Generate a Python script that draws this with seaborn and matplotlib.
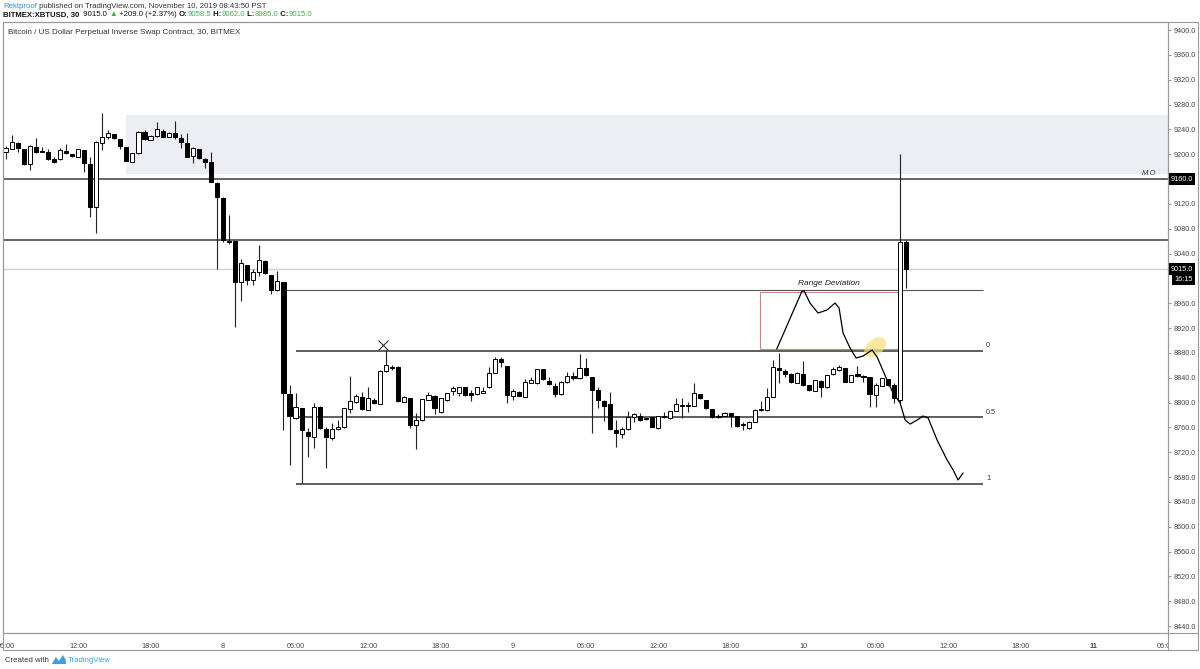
import numpy as np
import pandas as pd
import matplotlib
matplotlib.use("Agg")
import matplotlib.pyplot as plt
import matplotlib.transforms as mtrans
from matplotlib.patches import Rectangle, Ellipse, Polygon
from matplotlib.lines import Line2D
import seaborn as sns

# XBTUSD 30 min candles, time in hours from Nov 7 00:00, first bar at 06:00
first_hour = 6.0
opens = [9203, 9208.4, 9218.6, 9207.9, 9184.2, 9212.2, 9205.2, 9204.1, 9192.3, 9191.8,
         9205.2, 9200.9, 9196.0, 9206.8, 9183.7, 9114.5, 9218.6, 9227.2, 9232, 9224,
         9211.1, 9188, 9201.4, 9235.2, 9222.9, 9229.3, 9237.9, 9228.3, 9233.6, 9225.6,
         9218.6, 9197.1, 9207.9, 9192.3, 9186.9, 9154.2, 9130, 9061, 9060.7, 8994.7,
         9021.5, 8997.4, 9010.8, 9028.5, 9005.4, 8981.3, 8994.7, 8813.3, 8774.6, 8790.7,
         8752.1, 8745.1, 8793.4, 8756.9, 8742.4, 8756.9, 8760.1, 8789.6, 8801.4, 8809.5,
         8788, 8804.1, 8797.7, 8851.4, 8855.5, 8857.8, 8801.4, 8807.9, 8763.9, 8771.9,
         8804.1, 8811.1, 8785.3, 8804.1, 8818.7, 8815, 8824.6, 8814.9, 8813.8, 8816,
         8824.6, 8847.1, 8869.7, 8859, 8810.6, 8817.6, 8809.5, 8832, 8831, 8853.6,
         8835.3, 8826.7, 8813.8, 8832.6, 8842.8, 8839.1, 8856.3, 8841.7, 8820.3, 8803,
         8797.7, 8755.8, 8749.4, 8756.9, 8776.3, 8778.4, 8774, 8776.3, 8758.5, 8777.3,
         8774.6, 8786.5, 8796.1, 8795, 8794.5, 8813.3, 8804.2, 8789.1, 8777.3, 8778.4,
         8782.7, 8778.4, 8765.5, 8758.5, 8769.2, 8788, 8788, 8809.5, 8855, 8851.4,
         8846, 8832, 8846, 8828.3, 8819.2, 8835.3, 8824.6, 8846, 8852.5, 8855,
         8833.7, 8846, 8841.7, 8840.6, 8812.2, 8826.7, 8837.5, 8828.3, 8805, 9058.5]
highs = [9213.8, 9230.9, 9219.7, 9209, 9214.8, 9225.6, 9212.2, 9207.9, 9195, 9209.5,
         9215.9, 9201, 9208, 9207, 9195, 9221, 9265.8, 9239, 9233, 9224.5,
         9211.5, 9202.5, 9237.9, 9239, 9230.5, 9252.4, 9240.1, 9235, 9254, 9232.5,
         9233.6, 9212.2, 9208, 9193.4, 9204.1, 9154.5, 9131, 9102, 9060.7, 9030.7,
         9021.5, 9014.6, 9053.7, 9029, 9006, 9012.4, 8995, 8828.3, 8814.9, 8791,
         8758.5, 8799.8, 8794, 8761.2, 8766.6, 8771.9, 8791, 8842.8, 8813.8, 8817.6,
         8824.5, 8806.8, 8852.4, 8884.7, 8860, 8859, 8810, 8808, 8783.7, 8806,
         8817.6, 8812.2, 8808, 8816, 8826.7, 8825, 8825, 8820.3, 8825, 8825,
         8857.9, 8872.9, 8874, 8859.5, 8821.3, 8818, 8837.5, 8841.7, 8854, 8854,
         8841.7, 8831, 8835, 8849.8, 8849.8, 8878.3, 8871.3, 8842, 8824.6, 8805,
         8817.6, 8772, 8761.2, 8786.5, 8782.7, 8782.7, 8776, 8777, 8779, 8785.4,
         8787, 8806.9, 8806.9, 8801.5, 8832.1, 8814, 8805, 8790, 8781, 8785,
         8784, 8779, 8769, 8770, 8789, 8803, 8823, 8868.5, 8880, 8854.6,
         8847, 8849, 8867.5, 8829, 8837, 8836, 8845, 8857.8, 8860.5, 8856,
         8845, 8859, 8844.4, 8841, 8831, 8840, 8838, 8831, 9200, 9062]
lows = [9191.8, 9207.9, 9204.1, 9182, 9174.6, 9202.5, 9203, 9190.7, 9185.3, 9190.7,
        9199.8, 9196, 9196, 9171.9, 9099.4, 9073.7, 9206.8, 9224, 9225, 9207.9,
        9188.5, 9187.5, 9201, 9222.9, 9222.5, 9228.3, 9228, 9227.2, 9224, 9209.5,
        9195.5, 9186.4, 9191.8, 9177.3, 9155, 9015, 9058, 9055, 8922.2, 8964.1,
        8989.3, 8989.3, 9003.8, 9007, 8974.8, 8980.2, 8755.8, 8699.5, 8773.0, 8669.9,
        8711.8, 8726.3, 8756.9, 8694.1, 8739.7, 8755.8, 8758.5, 8783.7, 8799.8, 8788,
        8787.5, 8797.7, 8797, 8849.7, 8852, 8801.4, 8801, 8758.5, 8725.2, 8770.8,
        8804, 8781.6, 8784, 8803, 8812.2, 8810, 8811, 8803.1, 8813, 8815,
        8824, 8847, 8857.9, 8798.8, 8804.2, 8810, 8809, 8831, 8830, 8836,
        8828.3, 8809.5, 8813, 8832, 8836.4, 8838, 8843, 8750.5, 8790.8, 8770.9,
        8756, 8728, 8742.4, 8756, 8769, 8771, 8772, 8760, 8758, 8776,
        8774, 8786, 8774.6, 8785.4, 8794, 8806, 8790, 8776, 8776, 8778,
        8761, 8761, 8756, 8757, 8768, 8787, 8787, 8809, 8831, 8841.7,
        8832, 8831, 8827, 8819, 8818, 8809.5, 8824, 8845, 8851, 8833,
        8833, 8840.6, 8833.7, 8793.4, 8793.4, 8826, 8827, 8798.8, 8800, 8985]
closes = [9209.5, 9220.2, 9210.5, 9184.2, 9213.2, 9204.1, 9203.5, 9191.8, 9188.0, 9206.8,
          9201.4, 9197.1, 9207.9, 9185.3, 9115.5, 9220.2, 9227.2, 9233.6, 9225.6, 9213.2,
          9189.1, 9201.4, 9236.3, 9224, 9229.9, 9240.1, 9228.3, 9234.7, 9227.2, 9220.2,
          9196.0, 9209.5, 9193.4, 9188.0, 9155.8, 9130.6, 9062, 9059, 8994.7, 9024.2,
          8997.4, 9010.8, 9029.6, 9008.1, 8981.3, 8996.3, 8814.9, 8778.4, 8793.4, 8755.8,
          8746.7, 8793.4, 8758.5, 8745.1, 8756.9, 8760.1, 8790.7, 8803.1, 8810.6, 8789.1,
          8806.8, 8798.8, 8851.4, 8860.5, 8857.8, 8803.1, 8809.5, 8763.9, 8771.9, 8805.2,
          8812.2, 8790.7, 8806.8, 8814.9, 8823, 8824.6, 8812.2, 8812.2, 8824.6, 8819,
          8847.1, 8869.7, 8865.9, 8812.2, 8818.7, 8810.6, 8833.7, 8836, 8853.6, 8837.5,
          8829.4, 8813.8, 8833.7, 8843.4, 8839.1, 8856.3, 8844.4, 8820.3, 8804.2, 8795,
          8756.9, 8751.6, 8756.9, 8776.3, 8781.1, 8772, 8774.6, 8761.2, 8778.4, 8779,
          8786.5, 8797.7, 8794.5, 8794, 8814.9, 8806.9, 8790.7, 8777.3, 8778, 8783.8,
          8778.4, 8762.3, 8764, 8769.2, 8788, 8788.5, 8809.5, 8857.8, 8852.5, 8846,
          8833.7, 8847, 8828.3, 8820.3, 8836.4, 8824.6, 8844.4, 8853.5, 8857.8, 8833.7,
          8844.4, 8842.8, 8841.2, 8813.8, 8828.3, 8839.1, 8828.3, 8806.9, 9058.5, 9015]

# horizontal levels
full_levels = [9160, 9062]
last_price = 9015.0
range_top = 8981
fib_prices = [8883.6, 8776.2, 8668.9]
fib_labels = ["0", "0.5", "1"]
range_start, fib_start, levels_end = 29.0, 30.0, 86.9
zone_t0, zone_lo, zone_hi = 16.0, 9168, 9263
dev_box = (68.4, 79.9, 8886.3, 8978.1)

# hand drawn projection
path_t = [69.82, 71.89, 72.08, 72.57, 73.24, 73.98, 74.65, 74.98, 75.31, 75.89,
          76.39, 76.97, 77.71, 78.13, 78.95, 79.45, 80.03, 80.45, 80.86, 81.44,
          81.93, 82.35, 83.09, 83.92, 84.42, 84.83, 85.24]
path_p = [8886.3, 8978.6, 8980.2, 8960.4, 8944.3, 8949.1, 8960.4, 8952.3, 8912.1, 8887.9,
          8871.8, 8875.0, 8884.7, 8873.4, 8836.4, 8815.5, 8799.4, 8772.0, 8765.5, 8772.0,
          8778.4, 8775.2, 8739.8, 8707.6, 8691.5, 8675.4, 8686.6]

price_ticks = [p for p in range(8440, 9401, 40) if p not in (9000, 9160)]
time_ticks = [6, 12, 18, 24, 30, 36, 42, 48, 54, 60, 66, 72, 78, 84, 90, 96, 102]
time_labels = ["06:00", "12:00", "18:00", "8", "06:00", "12:00", "18:00", "9", "06:00",
               "12:00", "18:00", "10", "06:00", "12:00", "18:00", "11", "06:00"]

candles = pd.DataFrame({"open": opens, "high": highs, "low": lows, "close": closes})
candles["t"] = first_hour + 0.5 * np.arange(len(candles))

sns.set_style("white")
plt.rcParams["font.family"] = ["Liberation Sans", "DejaVu Sans"]

W, H = 1200, 669
fig = plt.figure(figsize=(12, 6.69), dpi=100)


def px(x0, y0, x1, y1):
    return [x0 / W, 1 - y1 / H, (x1 - x0) / W, (y1 - y0) / H]


ax = fig.add_axes(px(3, 22, 1168, 633))
ax.set_xlim(5.79, 102.2)
ax.set_ylim(8429.0, 9412.9)

# grey supply zone
ax.add_patch(Rectangle((zone_t0, zone_lo), 110, zone_hi - zone_lo, fc="#eceef3", ec="none", zorder=0))

# levels
for lv in full_levels:
    ax.axhline(lv, color="#3a3a3a", lw=1.1, zorder=1)
ax.axhline(last_price, color="#cfcfcf", lw=1.0, zorder=1)
ax.hlines(range_top, range_start, levels_end, color="#555", lw=0.8, zorder=1)
ax.hlines(fib_prices, fib_start, levels_end, color="#333", lw=1.1, zorder=1)
for p, lab in zip(fib_prices, fib_labels):
    ax.text(levels_end + 0.25, p + 3, lab, fontsize=5.2, color="#333", va="bottom", ha="left")

# candles
up = candles.close >= candles.open
body_lo = np.minimum(candles.open, candles.close)
body_h = np.maximum((candles.close - candles.open).abs(), 1.5)
ax.vlines(candles.t, candles.low, candles.high, color="#222", lw=0.8, zorder=3)
ax.bar(candles.t, body_h, bottom=body_lo, width=0.34,
       color=np.where(up, "white", "black"), edgecolor="black", linewidth=0.7, zorder=4)

# annotations
x0, x1, y0, y1 = dev_box
ax.add_patch(Rectangle((x0, y0), x1 - x0, y1 - y0, fill=False, ec="#c98888", lw=0.8, zorder=2))
ax.text((x0 + x1) / 2, 8986, "Range Deviation", fontsize=6, style="italic", color="#222",
        ha="center", va="bottom")
sns.lineplot(x=path_t, y=path_p, sort=False, color="black", lw=0.9, ax=ax, zorder=6)
ax.plot([37.2], [8892.7], marker="x", ms=7, mew=0.8, color="#333", zorder=6)
ell_tr = fig.dpi_scale_trans + mtrans.ScaledTranslation(77.96, 8889, ax.transData)
ax.add_patch(Ellipse((0, 0), 0.25, 0.16, angle=40, transform=ell_tr,
                     fc="#f6e27a", ec="none", alpha=0.7, zorder=5))
ax.text(101.2, 9160 + 4, "M.O", fontsize=5.5, style="italic", color="#333", ha="right", va="bottom")
ax.text(0.0043, 0.982, "Bitcoin / US Dollar Perpetual Inverse Swap Contract, 30, BITMEX",
        transform=ax.transAxes, fontsize=5.8, color="#333", ha="left", va="center")

# axes styling
ax.yaxis.tick_right()
ax.set_yticks(price_ticks)
ax.set_yticklabels([f"{p:.1f}" for p in price_ticks])
ax.set_xticks(time_ticks)
ax.set_xticklabels(time_labels)
ax.tick_params(axis="y", direction="out", length=2.5, width=0.6, color="#888",
               labelsize=5.2, labelcolor="#444", pad=1.5)
ax.tick_params(axis="x", direction="out", length=3, width=0.6, color="#888",
               labelsize=5.2, labelcolor="#444", pad=4)
for lab in ax.get_xticklabels():
    if lab.get_text() == "11":
        lab.set_fontweight("bold")
clip = mtrans.TransformedBbox(mtrans.Bbox([[-0.01, -0.2], [1.0, 1.0]]), ax.transAxes)
ax.get_xticklabels()[-1].set_clip_box(clip)
ax.get_xticklabels()[-1].set_clip_on(True)
for s in ax.spines.values():
    s.set_color("#9a9a9a")
    s.set_linewidth(0.8)

ylab = ax.get_yaxis_transform()
box = dict(boxstyle="square,pad=0.3", fc="black", ec="none")
ax.text(1.0025, 9160, "9160.0", transform=ylab, fontsize=5.2, color="white", va="center", ha="left", bbox=box)
ax.text(1.0025, last_price, "9015.0", transform=ylab, fontsize=5.2, color="white", va="center", ha="left", bbox=box)
ax.text(1.0055, 8999, "16:15", transform=ylab, fontsize=5.2, color="white", va="center", ha="left", bbox=box)

# outer frame
fig.patches.append(Rectangle((3 / W, 1 - 650 / H), 1195 / W, 628 / H, transform=fig.transFigure,
                             fill=False, ec="#9a9a9a", lw=0.8))
fig.lines.append(Line2D([1168 / W, 1168 / W], [1 - 650 / H, 1 - 22 / H], transform=fig.transFigure,
                        color="#9a9a9a", lw=0.8))
fig.lines.append(Line2D([3 / W, 1198 / W], [1 - 633 / H, 1 - 633 / H], transform=fig.transFigure,
                        color="#9a9a9a", lw=0.8))

# header text pieces
rend = fig.canvas.get_renderer()
ident = mtrans.IdentityTransform()


def write_run(x, y, parts, size):
    for s, color, weight in parts:
        t = fig.text(x, H - y, s, transform=ident, fontsize=size, color=color,
                     fontweight=weight, va="center", ha="left")
        x += t.get_window_extent(rend).width
    return x


green = "#45a84e"
write_run(3, 6, [("Rektproof", "#2f8fd8", "normal"),
                 (" published on TradingView.com, November 10, 2019 08:43:50 PST", "#333", "normal")], 5.6)
write_run(3, 15, [("BITMEX:XBTUSD, 30", "#111", "bold"), ("  9015.0 ", "#111", "normal"),
                  ("▲", green, "normal"), (" +209.0 (+2.37%) ", "#111", "normal"),
                  ("O:", "#111", "bold"), ("9058.5", green, "normal"),
                  (" H:", "#111", "bold"), ("9062.0", green, "normal"),
                  (" L:", "#111", "bold"), ("8985.0", green, "normal"),
                  (" C:", "#111", "bold"), ("9015.0", green, "normal")], 5.6)
xe = write_run(5, 660, [("Created with", "#333", "normal")], 5.6)
lx = xe + 3
fig.patches.append(Polygon([(lx, H - 664), (lx + 4, H - 657), (lx + 7, H - 661), (lx + 11, H - 655),
                            (lx + 14, H - 660), (lx + 14, H - 664)], closed=True,
                           transform=ident, fc="#3da0dc", ec="none"))
write_run(lx + 16, 660, [("TradingView", "#3da0dc", "normal")], 5.6)

fig.savefig("out.png", dpi=100)
